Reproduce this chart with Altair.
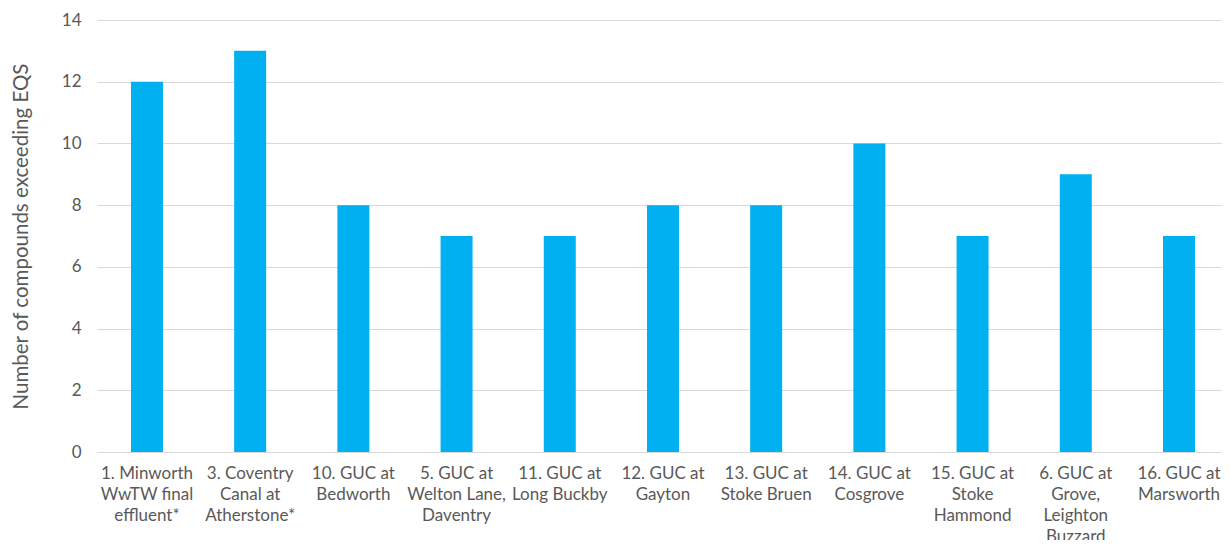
import altair as alt
import pandas as pd

sites = [
    "1. Minworth|WwTW final|effluent*",
    "3. Coventry|Canal at|Atherstone*",
    "10. GUC at|Bedworth",
    "5. GUC at|Welton Lane,|Daventry",
    "11. GUC at|Long Buckby",
    "12. GUC at|Gayton",
    "13. GUC at|Stoke Bruen",
    "14. GUC at|Cosgrove",
    "15. GUC at|Stoke|Hammond",
    "6. GUC at|Grove,|Leighton|Buzzard",
    "16. GUC at|Marsworth",
]
counts = [12, 13, 8, 7, 7, 8, 8, 10, 7, 9, 7]

df = pd.DataFrame({"site": sites, "count": counts})

FONT = "Lato"
GREY = "#595959"

chart = (
    alt.Chart(df)
    .mark_bar(color="#00B0F0")
    .encode(
        x=alt.X(
            "site:N",
            sort=sites,
            scale=alt.Scale(paddingInner=0.69, paddingOuter=0.2955, align=0.557),
            axis=alt.Axis(
                title=None,
                labelAngle=0,
                labelExpr="split(datum.label, '|')",
                labelLineHeight=21,
                labelFontSize=17,
                labelFont=FONT,
                labelColor=GREY,
                labelPadding=13,
                labelBaseline="top",
                ticks=False,
                domainColor="#D9D9D9",
                domainWidth=1,
                labelLimit=200,
            ),
        ),
        y=alt.Y(
            "count:Q",
            scale=alt.Scale(domain=[0, 14]),
            axis=alt.Axis(
                title="Number of compounds exceeding EQS",
                values=[0, 2, 4, 6, 8, 10, 12, 14],
                titleFont=FONT,
                titleFontSize=20.5,
                titleFontWeight="normal",
                titleColor=GREY,
                titlePadding=30,
                labelFont=FONT,
                labelFontSize=17,
                labelColor=GREY,
                labelPadding=16,
                ticks=False,
                domain=False,
                gridColor="#D9D9D9",
                gridWidth=1,
            ),
        ),
    )
    .properties(
        width=1125,
        height=432,
        padding={"left": 89, "top": 12, "right": 0, "bottom": 88},
        autosize=alt.AutoSizeParams(type="none"),
    )
    .configure_view(stroke=None)
)

chart.save("out.html", embed_options={"renderer": "svg", "actions": False})
